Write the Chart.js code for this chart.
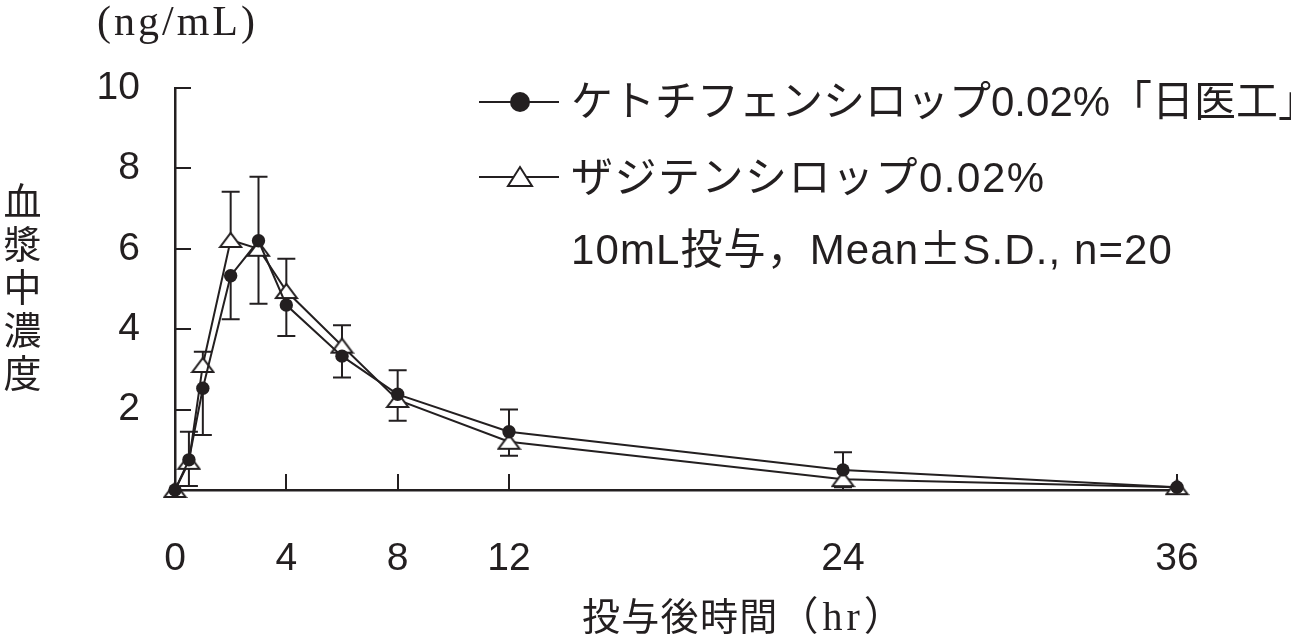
<!DOCTYPE html>
<html lang="ja">
<head>
<meta charset="utf-8">
<script src="https://cdn.jsdelivr.net/npm/chart.js@4/dist/chart.umd.min.js"></script>
<style>
    body { margin: 0; background: #fff; }
    #wrap { position: relative; width: 1291px; height: 639px; overflow: hidden; color: #231f20; }
    #chart { position: absolute; left: 0; top: 0; }
    .txt { position: absolute; white-space: nowrap; }
    .unit { left: 97px; top: 0px; font: 42px/42px "Liberation Serif", serif; letter-spacing: 3px; }
    .ytitle { left: 1px; top: 182px; width: 42px; font: 38px/42px "Noto Sans CJK JP", sans-serif;
              writing-mode: vertical-rl; text-orientation: upright; letter-spacing: 5px; }
    .xtitle { left: 582px; top: 595px; font: 38px/38px "Noto Sans CJK JP", sans-serif; letter-spacing: 1.3px; }
    .xtitle span { font-family: "Liberation Serif", "Noto Sans CJK JP", serif; font-size: 40px; letter-spacing: 4px; }
    .leg { left: 571px; font: 42px/42px "Liberation Sans", "Noto Sans CJK JP", sans-serif; letter-spacing: 1.5px; }
    .leg .pm { font-family: "Noto Sans CJK JP", sans-serif; }
    .sym { position: absolute; }
</style>
</head>
<body>
<div id="wrap">
    <canvas id="chart" width="1291" height="639"></canvas>
    <div class="txt unit">(ng/mL)</div>
    <div class="txt ytitle">血漿中濃度</div>
    <div class="txt xtitle">投与後時間<span>（hr）</span></div>

    <svg class="sym" style="left:478px;top:90px" width="82" height="24">
        <line x1="1" y1="12" x2="81" y2="12" stroke="#231f20" stroke-width="2"/>
        <circle cx="42" cy="12" r="10" fill="#231f20"/>
    </svg>
    <div class="txt leg" style="top:81px;letter-spacing:0">ケトチフェンシロップ0.02%「日医工」</div>

    <svg class="sym" style="left:478px;top:164px" width="82" height="26">
        <line x1="1" y1="13" x2="81" y2="13" stroke="#231f20" stroke-width="2"/>
        <polygon points="30,22 54,22 42,3" fill="#fff" stroke="#231f20" stroke-width="2"/>
    </svg>
    <div class="txt leg" style="top:157px">ザジテンシロップ0.02%</div>

    <div class="txt leg" style="top:225px;letter-spacing:1.1px">10mL投与，Mean<span class="pm">±</span>S.D., n=20</div>
</div>

<script>
// 時間 (hr)
const times = [0, 0.5, 1, 2, 3, 4, 6, 8, 12, 24, 36];

// ケトチフェンシロップ0.02%「日医工」
const ketoMean = [0, 0.75, 2.53, 5.33, 6.2, 4.6, 3.33, 2.38, 1.45, 0.5, 0.07];
const ketoSD   = [0, 0.7, 1.16, 1.08, 1.59, 0.77, 0.53, 0.6, 0.55, 0.44, 0];

// ザジテンシロップ0.02%
const zadiMean = [0, 0.7, 3.11, 6.22, 6.0, 4.95, 3.59, 2.24, 1.2, 0.27, 0.07];
const zadiSD   = [0, 0.6, 0.33, 1.2, 1.37, 0.8, 0.51, 0.52, 0.35, 0.2, 0];

// 目盛り
const xTicks = [0, 4, 8, 12, 24, 36];
const yTicks = [2, 4, 6, 8, 10];

const INK = "#231f20";

function toPoints(means) {
    return times.map((t, i) => ({ x: t, y: means[i] }));
}

// 三角マーカー (少し平たい)
function makeTriangle(w, h) {
    const c = document.createElement("canvas");
    c.width = w + 4;
    c.height = h + 4;
    const g = c.getContext("2d");
    g.beginPath();
    g.moveTo(2, h + 2);
    g.lineTo(w + 2, h + 2);
    g.lineTo(w / 2 + 2, 2);
    g.closePath();
    g.fillStyle = "#fff";
    g.fill();
    g.lineWidth = 2;
    g.strokeStyle = INK;
    g.stroke();
    return c;
}

// エラーバー: 上側の系列は+SD, 下側の系列は-SD
const errorBars = {
    id: "errorBars",
    beforeDatasetsDraw(chart) {
        const { ctx, scales: { x, y } } = chart;
        ctx.save();
        ctx.strokeStyle = INK;
        ctx.lineWidth = 2;
        const cap = 9;
        times.forEach((t, i) => {
            const ketoUp = ketoMean[i] >= zadiMean[i];
            const bars = [
                [ketoMean[i], ketoUp ? ketoSD[i] : -ketoSD[i]],
                [zadiMean[i], ketoUp ? -zadiSD[i] : zadiSD[i]]
            ];
            const px = x.getPixelForValue(t);
            bars.forEach(([m, d]) => {
                if (!d) return;
                const p0 = y.getPixelForValue(m);
                const p1 = y.getPixelForValue(m + d);
                ctx.beginPath();
                ctx.moveTo(px, p0);
                ctx.lineTo(px, p1);
                ctx.moveTo(px - cap, p1);
                ctx.lineTo(px + cap, p1);
                ctx.stroke();
            });
        });
        ctx.restore();
    }
};

// 内向きの目盛り線
const innerTicks = {
    id: "innerTicks",
    beforeDatasetsDraw(chart) {
        const { ctx, chartArea, scales: { x, y } } = chart;
        ctx.save();
        ctx.strokeStyle = INK;
        ctx.lineWidth = 2;
        ctx.beginPath();
        yTicks.forEach(v => {
            const py = Math.round(y.getPixelForValue(v));
            ctx.moveTo(chartArea.left, py);
            ctx.lineTo(chartArea.left + 16, py);
        });
        xTicks.filter(v => v > 0).forEach(v => {
            const px = Math.round(x.getPixelForValue(v));
            ctx.moveTo(px, chartArea.bottom);
            ctx.lineTo(px, chartArea.bottom - 16);
        });
        ctx.stroke();
        ctx.restore();
    }
};

const tickFont = { family: "'Liberation Sans', Arial, sans-serif", size: 39 };

new Chart(document.getElementById("chart"), {
    type: "line",
    data: {
        datasets: [
            {
                label: "ケトチフェンシロップ0.02%「日医工」",
                data: toPoints(ketoMean),
                borderColor: INK,
                borderWidth: 2,
                pointStyle: "circle",
                pointRadius: 6.7,
                pointBackgroundColor: INK,
                pointBorderColor: INK,
                pointBorderWidth: 0,
                clip: false
            },
            {
                label: "ザジテンシロップ0.02%",
                data: toPoints(zadiMean),
                borderColor: INK,
                borderWidth: 2,
                pointStyle: makeTriangle(21, 14),
                clip: false
            }
        ]
    },
    options: {
        responsive: false,
        animation: false,
        layout: { padding: { top: 88, right: 114, left: 0, bottom: 0 } },
        plugins: {
            legend: { display: false },
            tooltip: { enabled: false }
        },
        elements: { line: { tension: 0 } },
        scales: {
            x: {
                type: "linear",
                min: 0,
                max: 36,
                afterBuildTicks: s => { s.ticks = xTicks.map(v => ({ value: v })); },
                afterFit: s => { s.height = 639 - 490; },
                grid: { display: false, drawTicks: false },
                border: { display: true, color: INK, width: 2.5 },
                ticks: { color: INK, font: tickFont, padding: 46, maxRotation: 0, autoSkip: false }
            },
            y: {
                min: 0,
                max: 10,
                afterBuildTicks: s => { s.ticks = yTicks.map(v => ({ value: v })); },
                afterFit: s => { s.width = 175; },
                grid: { display: false, drawTicks: false },
                border: { display: true, color: INK, width: 2.5 },
                ticks: { color: INK, font: tickFont, padding: 35, autoSkip: false }
            }
        }
    },
    plugins: [innerTicks, errorBars]
});
</script>
</body>
</html>
